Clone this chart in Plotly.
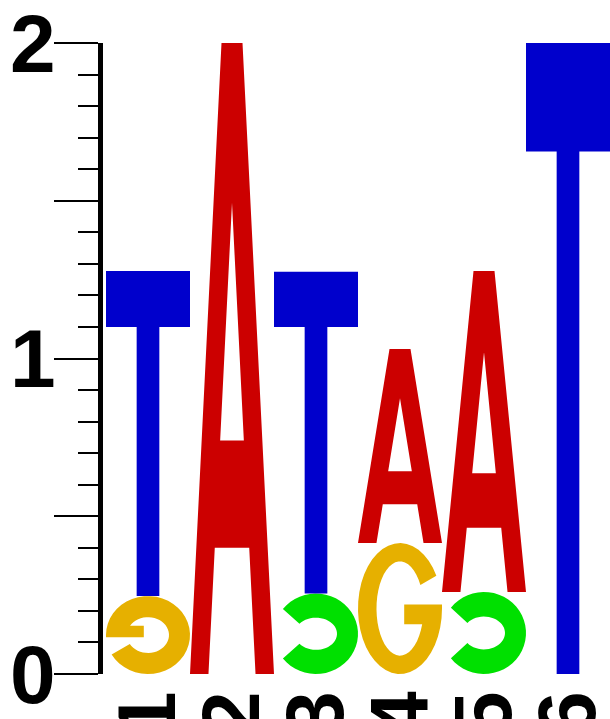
import numpy as np
import plotly.graph_objects as go

# Information content (bits) of each base at each position
positions = [1, 2, 3, 4, 5, 6]
height_A = [0.0, 2.0, 0.0, 0.615, 1.017, 0.0]
height_C = [0.0, 0.0, 0.255, 0.0, 0.26, 0.0]
height_G = [0.247, 0.0, 0.0, 0.415, 0.0, 0.0]
height_T = [1.03, 0.0, 1.02, 0.0, 0.0, 2.0]

y_tick_vals = [0, 0.5, 1, 1.5, 2]
y_tick_text = ["0", "", "1", "", "2"]
x_tick_text = ["1", "2", "3", "4", "5", "6"]

base_colors = {"A": "#CC0000", "C": "#00E000", "G": "#E6B000", "T": "#0000CC"}
# glyphs drawn turned through 180 degrees
turned = {(1, "G"), (3, "C"), (5, "C")}


def arc(cx, cy, rx, ry, a0, a1, n=40):
    t = np.radians(np.linspace(a0, a1, n))
    return list(zip(cx + rx * np.cos(t), cy + ry * np.sin(t)))


def glyph_T():
    return [[(0, 1), (1, 1), (1, 0.828), (0.635, 0.828), (0.635, 0),
             (0.365, 0), (0.365, 0.828), (0, 0.828)]]


def glyph_A():
    outer = [(0, 0), (0.22, 0), (0.295, 0.2), (0.705, 0.2), (0.78, 0),
             (1, 0), (0.625, 1), (0.375, 1)]
    hole = [(0.359, 0.37), (0.5, 0.747), (0.641, 0.37)]
    return [outer, hole]


def glyph_C(tx, ty, a=38):
    outer = arc(0.5, 0.5, 0.5, 0.5, a, 360 - a)
    inner = arc(0.5, 0.5, 0.5 - tx, 0.5 - ty, 360 - a, a)
    return [outer + inner]


def glyph_G(tx, ty, a=30, bar_top=0.53, bar_bot=0.38, bar_x=0.55):
    ry = 0.5 - ty
    rx = 0.5 - tx
    outer = arc(0.5, 0.5, 0.5, 0.5, a, 360)
    th = np.degrees(np.arcsin(max(-1.0, (bar_bot - 0.5) / ry)))
    bar = [(1, bar_top), (bar_x, bar_top), (bar_x, bar_bot)]
    inner = arc(0.5, 0.5, rx, ry, th, a - 360)
    return [outer + bar + inner]


def glyph(letter, is_turned):
    if letter == "A":
        return glyph_A()
    if letter == "T":
        return glyph_T()
    if letter == "C":
        return glyph_C(0.25, 0.3) if is_turned else glyph_C(0.22, 0.15)
    return glyph_G(0.25, 0.27) if is_turned else glyph_G(0.22, 0.14)


def to_path(polys, x0, x1, y0, y1, is_turned):
    parts = []
    for poly in polys:
        pts = []
        for (x, y) in poly:
            if is_turned:
                x, y = 1 - x, 1 - y
            pts.append(f"{x0 + x * (x1 - x0):.5f},{y0 + y * (y1 - y0):.5f}")
        parts.append("M" + " L".join(pts) + " Z")
    return " ".join(parts)


heights = {"A": height_A, "C": height_C, "G": height_G, "T": height_T}
shapes = []
for i, pos in enumerate(positions):
    stack = sorted(((heights[b][i], b) for b in "ACGT" if heights[b][i] > 0))
    base = 0.0
    for h, b in stack:
        tr = (pos, b) in turned
        path = to_path(glyph(b, tr), pos - 0.5, pos + 0.5, base, base + h, tr)
        shapes.append(dict(type="path", path=path, xref="x", yref="y",
                           fillcolor=base_colors[b], line=dict(width=0),
                           layer="above"))
        base += h

fig = go.Figure()
fig.add_trace(go.Scatter(x=positions, y=[0] * len(positions), mode="markers",
                         marker=dict(opacity=0), hoverinfo="skip",
                         showlegend=False))

label_font = dict(family="Liberation Sans, Arial, sans-serif", size=82,
                  color="black", weight="bold")

fig.update_layout(
    width=610, height=719,
    margin=dict(l=103, r=0, t=43, b=45),
    paper_bgcolor="white", plot_bgcolor="white",
    shapes=shapes, showlegend=False,
    xaxis=dict(range=[0.5 - 3 / 84, 6.5], tickvals=positions,
               ticktext=x_tick_text, tickangle=-90, tickfont=label_font,
               showgrid=False, zeroline=False, showline=False, ticks="",
               automargin=False, ticklabeloverflow="allow"),
    yaxis=dict(range=[0, 2], tickvals=y_tick_vals, ticktext=y_tick_text,
               ticks="outside", ticklen=44, tickwidth=2, tickcolor="black",
               showline=True, linewidth=5, linecolor="black",
               minor=dict(dtick=0.1, ticks="outside", ticklen=20,
                          tickwidth=2, tickcolor="black", showgrid=False),
               tickfont=label_font, showgrid=False, zeroline=False,
               automargin=False, ticklabeloverflow="allow",
               ticklabelstandoff=-18),
)

fig.write_html("out.html")
